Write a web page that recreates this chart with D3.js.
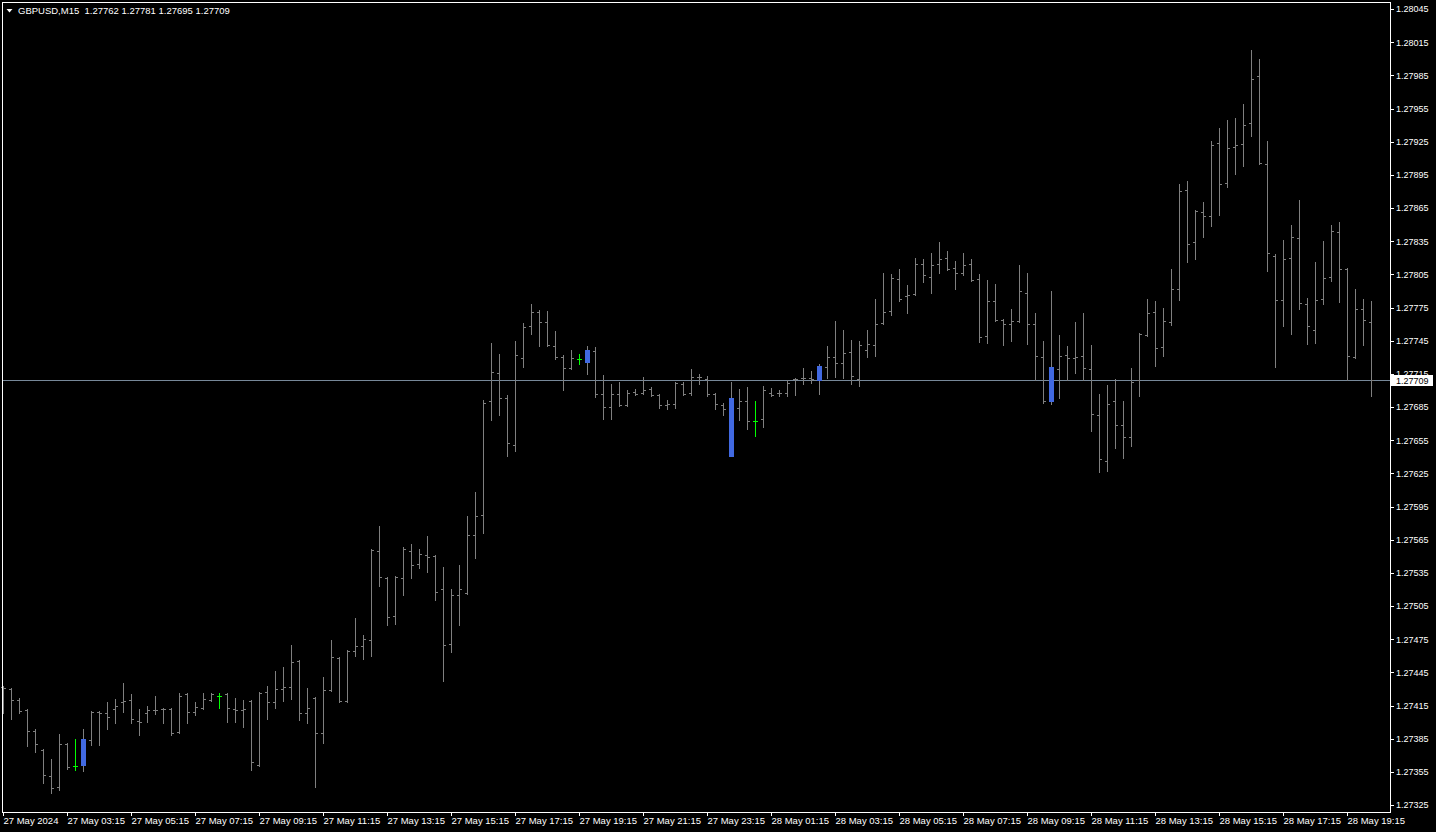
<!DOCTYPE html>
<html><head><meta charset="utf-8">
<script src="https://cdn.jsdelivr.net/npm/d3@7"></script>
<style>
html,body{margin:0;padding:0;background:#000;}
svg{display:block;}
</style></head><body>
<svg id="c" width="1436" height="832"></svg>
<script>
const symbol = "GBPUSD";
const period = "M15";
const open = [1.27432,1.27430,1.27420,1.27411,1.27392,1.27375,1.27351,1.27341,1.27380,1.27360,
1.27361,1.27384,1.27409,1.27408,1.27412,1.27418,1.27420,1.27401,1.27408,1.27411,
1.27412,1.27412,1.27391,1.27425,1.27409,1.27413,1.27420,1.27424,1.27425,1.27412,
1.27411,1.27419,1.27361,1.27427,1.27418,1.27430,1.27432,1.27455,1.27408,1.27422,
1.27390,1.27429,1.27458,1.27419,1.27464,1.27469,1.27474,1.27555,1.27530,1.27496,
1.27530,1.27555,1.27543,1.27551,1.27550,1.27520,1.27471,1.27515,1.27517,1.27569,
1.27587,1.27690,1.27716,1.27693,1.27651,1.27729,1.27758,1.27771,1.27762,1.27740,
1.27730,1.27720,1.27728,1.27726,1.27736,1.27697,1.27685,1.27697,1.27687,1.27699,
1.27698,1.27701,1.27696,1.27687,1.27688,1.27706,1.27698,1.27712,1.27710,1.27697,
1.27687,1.27683,1.27684,1.27690,1.27672,1.27674,1.27698,1.27698,1.27698,1.27710,
1.27711,1.27711,1.27709,1.27721,1.27730,1.27725,1.27735,1.27710,1.27737,1.27741,
1.27761,1.27772,1.27801,1.27785,1.27787,1.27814,1.27803,1.27814,1.27820,1.27811,
1.27806,1.27814,1.27801,1.27749,1.27781,1.27764,1.27760,1.27763,1.27788,1.27760,
1.27730,1.27690,1.27719,1.27732,1.27729,1.27731,1.27719,1.27678,1.27636,1.27690,
1.27669,1.27658,1.27709,1.27750,1.27771,1.27739,1.27762,1.27792,1.27881,1.27834,
1.27861,1.27858,1.27924,1.27888,1.27920,1.27923,1.27942,1.27984,1.27905,1.27822,
1.27782,1.27820,1.27838,1.27778,1.27755,1.27783,1.27803,1.27843,1.27810,1.27730,
1.27774,1.27762];
const high = [1.27433,1.27431,1.27422,1.27412,1.27394,1.27376,1.27367,1.27389,1.27381,1.27385,
1.27394,1.27410,1.27410,1.27418,1.27421,1.27435,1.27425,1.27412,1.27415,1.27424,
1.27413,1.27413,1.27426,1.27426,1.27418,1.27426,1.27426,1.27426,1.27426,1.27422,
1.27420,1.27420,1.27427,1.27433,1.27446,1.27450,1.27470,1.27456,1.27431,1.27423,
1.27441,1.27474,1.27459,1.27465,1.27494,1.27479,1.27557,1.27577,1.27531,1.27532,
1.27558,1.27561,1.27557,1.27568,1.27551,1.27540,1.27520,1.27542,1.27586,1.27608,
1.27691,1.27743,1.27733,1.27696,1.27745,1.27761,1.27778,1.27773,1.27772,1.27754,
1.27732,1.27737,1.27733,1.27740,1.27739,1.27714,1.27706,1.27708,1.27700,1.27701,
1.27712,1.27703,1.27697,1.27691,1.27708,1.27708,1.27719,1.27715,1.27713,1.27698,
1.27689,1.27708,1.27701,1.27703,1.27690,1.27704,1.27702,1.27700,1.27709,1.27711,
1.27720,1.27718,1.27724,1.27740,1.27763,1.27755,1.27746,1.27745,1.27755,1.27783,
1.27806,1.27805,1.27810,1.27795,1.27820,1.27819,1.27824,1.27834,1.27826,1.27817,
1.27824,1.27819,1.27805,1.27800,1.27796,1.27765,1.27774,1.27813,1.27806,1.27770,
1.27745,1.27790,1.27750,1.27740,1.27762,1.27770,1.27741,1.27697,1.27705,1.27710,
1.27690,1.27720,1.27752,1.27783,1.27781,1.27775,1.27810,1.27887,1.27889,1.27863,
1.27870,1.27926,1.27937,1.27945,1.27946,1.27959,1.28008,1.28000,1.27926,1.27823,
1.27836,1.27850,1.27872,1.27784,1.27816,1.27835,1.27850,1.27852,1.27811,1.27792,
1.27783,1.27781];
const low = [1.27408,1.27403,1.27408,1.27378,1.27373,1.27345,1.27336,1.27339,1.27358,1.27357,
1.27356,1.27379,1.27379,1.27394,1.27399,1.27409,1.27399,1.27388,1.27400,1.27407,
1.27399,1.27388,1.27390,1.27399,1.27406,1.27412,1.27419,1.27413,1.27400,1.27400,
1.27396,1.27357,1.27360,1.27403,1.27413,1.27419,1.27421,1.27402,1.27399,1.27341,
1.27381,1.27428,1.27418,1.27418,1.27460,1.27457,1.27460,1.27523,1.27488,1.27489,
1.27515,1.27530,1.27539,1.27536,1.27510,1.27437,1.27463,1.27488,1.27516,1.27548,
1.27571,1.27673,1.27678,1.27641,1.27645,1.27721,1.27751,1.27740,1.27740,1.27728,
1.27700,1.27719,1.27724,1.27715,1.27694,1.27674,1.27674,1.27686,1.27686,1.27696,
1.27697,1.27695,1.27684,1.27683,1.27684,1.27696,1.27696,1.27706,1.27695,1.27683,
1.27678,1.27641,1.27673,1.27665,1.27659,1.27667,1.27695,1.27695,1.27695,1.27696,
1.27706,1.27707,1.27697,1.27711,1.27712,1.27711,1.27706,1.27704,1.27730,1.27731,
1.27760,1.27768,1.27781,1.27770,1.27786,1.27798,1.27788,1.27806,1.27809,1.27792,
1.27804,1.27799,1.27744,1.27743,1.27763,1.27741,1.27745,1.27762,1.27742,1.27709,
1.27689,1.27688,1.27693,1.27709,1.27716,1.27709,1.27663,1.27626,1.27627,1.27648,
1.27639,1.27650,1.27695,1.27749,1.27722,1.27731,1.27759,1.27782,1.27816,1.27819,
1.27839,1.27849,1.27859,1.27884,1.27896,1.27903,1.27930,1.27905,1.27808,1.27721,
1.27758,1.27751,1.27774,1.27742,1.27743,1.27778,1.27799,1.27780,1.27709,1.27729,
1.27741,1.27695];
const close = [1.27431,1.27420,1.27410,1.27392,1.27380,1.27352,1.27340,1.27380,1.27359,1.27360,
1.27385,1.27409,1.27408,1.27405,1.27415,1.27419,1.27403,1.27400,1.27411,1.27411,
1.27412,1.27390,1.27424,1.27409,1.27414,1.27421,1.27425,1.27424,1.27413,1.27411,
1.27412,1.27364,1.27426,1.27418,1.27430,1.27432,1.27454,1.27408,1.27413,1.27390,
1.27429,1.27459,1.27419,1.27464,1.27469,1.27475,1.27556,1.27531,1.27495,1.27531,
1.27557,1.27542,1.27552,1.27549,1.27518,1.27470,1.27515,1.27520,1.27569,1.27586,
1.27689,1.27717,1.27693,1.27652,1.27732,1.27757,1.27771,1.27762,1.27741,1.27730,
1.27720,1.27729,1.27728,1.27737,1.27697,1.27685,1.27697,1.27687,1.27698,1.27697,
1.27700,1.27696,1.27687,1.27688,1.27707,1.27697,1.27712,1.27712,1.27697,1.27688,
1.27683,1.27684,1.27690,1.27672,1.27672,1.27700,1.27696,1.27698,1.27707,1.27710,
1.27711,1.27710,1.27722,1.27730,1.27725,1.27734,1.27713,1.27741,1.27742,1.27760,
1.27771,1.27802,1.27783,1.27786,1.27814,1.27804,1.27813,1.27819,1.27810,1.27806,
1.27813,1.27800,1.27748,1.27781,1.27764,1.27760,1.27763,1.27790,1.27760,1.27731,
1.27690,1.27721,1.27731,1.27729,1.27730,1.27720,1.27679,1.27638,1.27688,1.27669,
1.27658,1.27708,1.27751,1.27770,1.27738,1.27763,1.27792,1.27880,1.27832,1.27862,
1.27858,1.27922,1.27887,1.27919,1.27922,1.27940,1.27982,1.27906,1.27824,1.27782,
1.27819,1.27839,1.27779,1.27758,1.27782,1.27802,1.27844,1.27810,1.27731,1.27774,
1.27764,1.27709];
const timeLabels = ["27 May 2024","27 May 03:15","27 May 05:15","27 May 07:15","27 May 09:15","27 May 11:15",
"27 May 13:15","27 May 15:15","27 May 17:15","27 May 19:15","27 May 21:15","27 May 23:15",
"28 May 01:15","28 May 03:15","28 May 05:15","28 May 07:15","28 May 09:15","28 May 11:15",
"28 May 13:15","28 May 15:15","28 May 17:15","28 May 19:15"];
const priceTicks = [1.28045,1.28015,1.27985,1.27955,1.27925,1.27895,1.27865,1.27835,1.27805,1.27775,
1.27745,1.27715,1.27685,1.27655,1.27625,1.27595,1.27565,1.27535,1.27505,1.27475,1.27445,1.27415,
1.27385,1.27355,1.27325];
const bidPrice = 1.27709;
const greenBars = [9, 27, 72, 94];
const blueIdx = [10, 73, 91, 102, 131];
const blueTop = [1.27385, 1.27737, 1.27693, 1.27722, 1.27721];
const blueBottom = [1.27361, 1.27726, 1.27641, 1.27709, 1.27690];

const W = 1436, H = 832;
const AXIS_X = 1390, AXIS_Y = 812;
const BAR_COLOR = "#7f7f7f";
const FONT = "'Liberation Sans', Arial, sans-serif";

const svg = d3.select("#c");
svg.append("rect").attr("width", W).attr("height", H).attr("fill", "#000");

const n = open.length;
const x = d3.scaleLinear().domain([0, n - 1]).range([3, 3 + 8 * (n - 1)]);
const y = d3.scaleLinear().domain([priceTicks[priceTicks.length - 1], priceTicks[0]]).range([805, 9]);
const py = v => Math.round(y(v));

// bid line
svg.append("line").attr("x1", 2).attr("x2", AXIS_X).attr("y1", py(bidPrice) + 0.5).attr("y2", py(bidPrice) + 0.5)
  .attr("stroke", "#778899").attr("stroke-width", 1).attr("shape-rendering", "crispEdges");

// OHLC bars
const idx = d3.range(n);
svg.append("g").selectAll("path").data(idx).join("path")
  .attr("d", i => {
    const c = Math.round(x(i));
    const yh = py(high[i]), yl = py(low[i]), yo = py(open[i]), yc = py(close[i]);
    if (greenBars.includes(i)) {
      return `M${c + 0.5},${yh}V${yl + 1}M${c - 2},${yo + 0.5}H${c + 3}`;
    }
    return `M${c + 0.5},${yh}V${yl + 1}M${c - 2},${yo + 0.5}H${c}M${c + 1},${yc + 0.5}H${c + 3}`;
  })
  .attr("fill", "none")
  .attr("stroke", i => greenBars.includes(i) ? "#00ff00" : BAR_COLOR)
  .attr("stroke-width", 1)
  .attr("shape-rendering", "crispEdges");

// blue bodies
svg.append("g").selectAll("rect").data(blueIdx).join("rect")
  .attr("x", (d) => Math.round(x(d)) - 2)
  .attr("width", 5)
  .attr("y", (d, k) => py(blueTop[k]))
  .attr("height", (d, k) => py(blueBottom[k]) - py(blueTop[k]) + 1)
  .attr("fill", "#4169e1")
  .attr("shape-rendering", "crispEdges");

// frame lines
const frame = svg.append("g").attr("stroke", "#fff").attr("shape-rendering", "crispEdges");
frame.append("line").attr("x1", 2.5).attr("x2", 2.5).attr("y1", 2).attr("y2", AXIS_Y + 1);
frame.append("line").attr("x1", 2).attr("x2", AXIS_X + 1).attr("y1", 2.5).attr("y2", 2.5);
frame.append("line").attr("x1", 2).attr("x2", AXIS_X + 1).attr("y1", AXIS_Y + 0.5).attr("y2", AXIS_Y + 0.5);
frame.append("line").attr("x1", AXIS_X + 0.5).attr("x2", AXIS_X + 0.5).attr("y1", 2).attr("y2", AXIS_Y + 1);

// price axis
const gy = svg.append("g").attr("transform", `translate(${AXIS_X + 1},0)`)
  .call(d3.axisRight(y).tickValues(priceTicks).tickSize(3).tickPadding(3).tickFormat(d3.format(".5f")));
gy.select(".domain").remove();
gy.attr("font-family", FONT).attr("font-size", 9);
gy.selectAll(".tick line").attr("stroke", "#fff").attr("shape-rendering", "crispEdges");
gy.selectAll(".tick text").attr("fill", "#fff").attr("x", 5);

// time axis
const gx = svg.append("g").attr("transform", `translate(0,${AXIS_Y + 1})`)
  .call(d3.axisBottom(x).tickValues(d3.range(0, n, 8)).tickSize(3)
    .tickFormat((d, k) => timeLabels[k]));
gx.select(".domain").remove();
gx.attr("font-family", FONT).attr("font-size", 9.5);
gx.selectAll(".tick line").attr("stroke", "#fff").attr("shape-rendering", "crispEdges");
gx.selectAll(".tick text").attr("fill", "#fff").attr("text-anchor", "start").attr("x", 0).attr("y", 11).attr("dy", 0);

// current price box (drawn over the axis label it covers, as in the original)
const by = py(bidPrice);
svg.append("rect").attr("x", AXIS_X + 1).attr("y", by - 5).attr("width", 42).attr("height", 11).attr("fill", "#fff");
svg.append("text").attr("x", AXIS_X + 6).attr("y", by + 4).attr("fill", "#000")
  .attr("font-family", FONT).attr("font-size", 9).text(d3.format(".5f")(bidPrice));

// header
svg.append("path").attr("d", "M6.5,9L12.5,9L9.5,12.5Z").attr("fill", "#fff");
const f5 = d3.format(".5f");
svg.append("text").attr("x", 18).attr("y", 14).attr("fill", "#fff")
  .attr("font-family", FONT).attr("font-size", 9.5).style("white-space", "pre")
  .text(`${symbol},${period}  ${f5(open[n-1])} ${f5(high[n-1])} ${f5(low[n-1])} ${f5(close[n-1])}`);
</script>
</body></html>
